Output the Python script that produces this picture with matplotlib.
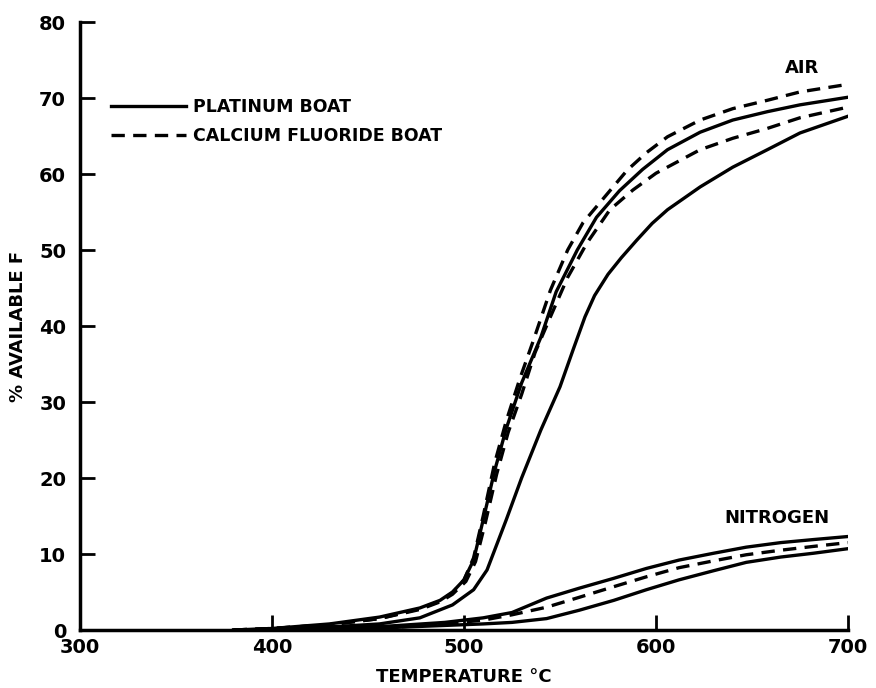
import matplotlib
matplotlib.use("Agg")
import matplotlib.pyplot as plt

# Air, platinum boat (upper solid)
air_pt1_t = [380, 400, 430, 456, 477, 487.5, 494, 500, 505, 510, 516, 522, 530, 540, 548,
             559, 569, 581, 593, 606, 623, 640, 658, 675, 700]
air_pt1_f = [0, 0.2, 0.8, 1.7, 2.9, 3.9, 5.0, 6.6, 9.2, 14.5, 21, 26.5, 32.5, 38.5, 44.5,
             50, 54.3, 57.8, 60.6, 63.2, 65.5, 67.1, 68.2, 69.1, 70.1]

# Air, platinum boat (lower solid)
air_pt2_t = [380, 400, 430, 456, 477, 494, 505, 512, 522, 530, 540, 550, 557, 563, 568,
             575, 582, 590, 598, 606, 623, 640, 658, 675, 700]
air_pt2_f = [0, 0.1, 0.4, 0.8, 1.6, 3.3, 5.3, 7.9, 14.5, 20, 26.3, 32, 37, 41.2, 44,
             46.8, 49, 51.3, 53.5, 55.3, 58.3, 60.9, 63.2, 65.4, 67.6]

# Air, calcium fluoride boat (upper dashed)
air_cf1_t = [380, 400, 430, 456, 477, 487.5, 494, 500, 505, 510, 516, 522, 529, 536, 545,
             554, 562, 572, 585, 595, 606, 623, 640, 658, 675, 700]
air_cf1_f = [0, 0.2, 0.7, 1.5, 2.8, 3.8, 4.9, 6.6, 9.5, 15, 22, 27.5, 33, 38, 44.7,
             50, 53.6, 56.6, 60.5, 62.8, 64.9, 67.1, 68.6, 69.7, 70.8, 71.8]

# Air, calcium fluoride boat (lower dashed)
air_cf2_t = [380, 400, 430, 456, 477, 487.5, 494, 501, 506, 511, 517, 523, 530, 537, 545,
             554, 564, 576, 588, 600, 623, 640, 658, 675, 700]
air_cf2_f = [0, 0.2, 0.7, 1.5, 2.7, 3.7, 4.7, 6.4, 9.0, 14.0, 20.5, 26, 31, 36.5, 41.2,
             46.4, 50.9, 55.3, 57.9, 60.1, 63.2, 64.7, 66, 67.4, 68.8]

# Nitrogen, platinum boat (upper and lower solid) and calcium fluoride boat (dashed)
n2_pt1_t = [400, 430, 460, 490, 510, 525, 543, 560, 578, 595, 612, 630, 647, 665, 682, 700]
n2_pt1_f = [0, 0.2, 0.5, 1.0, 1.6, 2.3, 4.2, 5.5, 6.8, 8.1, 9.2, 10.1, 10.9, 11.5, 11.9, 12.3]

n2_cf_t = [400, 430, 460, 490, 510, 525, 543, 560, 578, 595, 612, 630, 647, 665, 682, 700]
n2_cf_f = [0, 0.1, 0.3, 0.8, 1.3, 2.0, 3.0, 4.3, 5.7, 7.0, 8.2, 9.1, 9.9, 10.5, 11.0, 11.5]

n2_pt2_t = [420, 450, 480, 510, 525, 543, 560, 578, 595, 612, 630, 647, 665, 682, 700]
n2_pt2_f = [0, 0.2, 0.5, 0.8, 1.0, 1.5, 2.6, 3.9, 5.3, 6.6, 7.8, 8.9, 9.6, 10.1, 10.7]

x_ticks = [300, 400, 500, 600, 700]
y_ticks = [0, 10, 20, 30, 40, 50, 60, 70, 80]

plt.rcParams['font.family'] = ['DejaVu Sans']
plt.rcParams['font.weight'] = 'bold'

fig = plt.figure(figsize=(8.76, 6.88), dpi=100, facecolor='white')
ax = fig.add_axes([80 / 876, 58 / 688, 768 / 876, 608 / 688])

lw = 2.4
dash = (4, 2.5)
ax.plot(air_pt1_t, air_pt1_f, color='black', lw=lw, label='PLATINUM BOAT')
ax.plot(air_pt2_t, air_pt2_f, color='black', lw=lw)
ax.plot(air_cf1_t, air_cf1_f, color='black', lw=lw, linestyle=(0, dash),
        label='CALCIUM FLUORIDE BOAT')
ax.plot(air_cf2_t, air_cf2_f, color='black', lw=lw, linestyle=(0, dash))
ax.plot(n2_pt1_t, n2_pt1_f, color='black', lw=lw)
ax.plot(n2_pt2_t, n2_pt2_f, color='black', lw=lw)
ax.plot(n2_cf_t, n2_cf_f, color='black', lw=lw, linestyle=(0, dash))

ax.set_xlim(300, 700)
ax.set_ylim(0, 80)
ax.set_xticks(x_ticks)
ax.set_yticks(y_ticks)

for side in ['top', 'right']:
    ax.spines[side].set_visible(False)
for side in ['left', 'bottom']:
    ax.spines[side].set_linewidth(2.5)

ax.tick_params(direction='in', length=11, width=2, labelsize=14)
ax.tick_params(axis='y', pad=10)
ax.tick_params(axis='x', pad=6)
for lab in ax.get_xticklabels() + ax.get_yticklabels():
    lab.set_fontweight('bold')

ax.set_xlabel('TEMPERATURE °C', fontsize=13, fontweight='bold', labelpad=8)
ax.set_ylabel('% AVAILABLE F', fontsize=13, fontweight='bold', labelpad=9)

ax.text(676, 74, 'AIR', fontsize=13, fontweight='bold', ha='center', va='center')
ax.text(663, 14.7, 'NITROGEN', fontsize=13, fontweight='bold', ha='center', va='center')

ax.legend(loc='upper left', bbox_to_anchor=(0.02, 0.9), frameon=False,
          handlelength=4.3, handletextpad=0.4, labelspacing=0.6,
          prop={'size': 12.5, 'weight': 'bold'})

fig.savefig('out.png', dpi=100, facecolor='white')
